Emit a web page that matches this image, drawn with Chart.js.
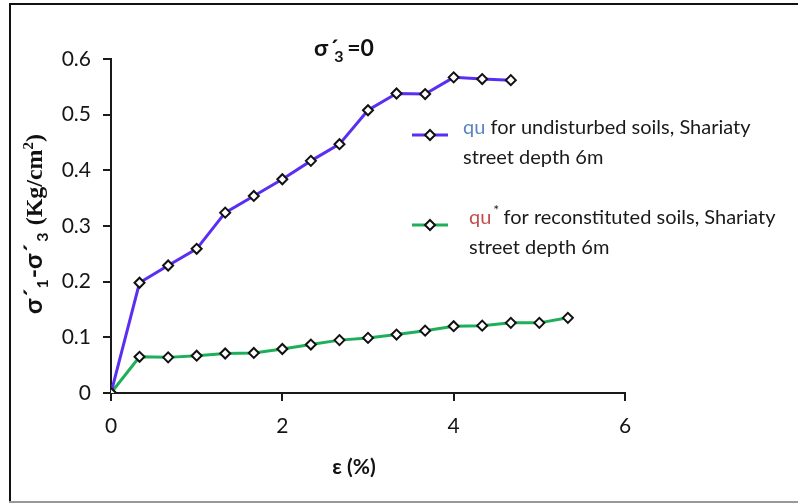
<!DOCTYPE html>
<html>
<head>
<meta charset="utf-8">
<script src="https://cdn.jsdelivr.net/npm/chart.js@4/dist/chart.umd.min.js"></script>
<style>
  html, body { margin: 0; padding: 0; background: #fff; }
  #wrap { position: relative; width: 798px; height: 504px; }
</style>
</head>
<body>
<div id="wrap"><canvas id="chart" width="798" height="504"></canvas></div>
<script>
// strain (%) and deviator stress values
const strainUndisturbed = [0, 0.333, 0.667, 1.0, 1.333, 1.667, 2.0, 2.333, 2.667, 3.0, 3.333, 3.667, 4.0, 4.333, 4.667];
const stressUndisturbed = [0, 0.198, 0.229, 0.259, 0.324, 0.354, 0.384, 0.417, 0.447, 0.508, 0.538, 0.537, 0.567, 0.564, 0.562];

const strainReconstituted = [0, 0.333, 0.667, 1.0, 1.333, 1.667, 2.0, 2.333, 2.667, 3.0, 3.333, 3.667, 4.0, 4.333, 4.667, 5.0, 5.333];
const stressReconstituted = [0, 0.065, 0.064, 0.067, 0.071, 0.072, 0.079, 0.087, 0.095, 0.099, 0.105, 0.112, 0.120, 0.121, 0.126, 0.126, 0.135];

const xTicks = [0, 2, 4, 6];
const yTicks = [0, 0.1, 0.2, 0.3, 0.4, 0.5, 0.6];

const legendItems = [
    { prefix: "qu", prefixColor: "#5b84c4", sup: "", rest: " for undisturbed soils, Shariaty", line2: "street depth 6m", color: "#5b2ff2" },
    { prefix: "qu", prefixColor: "#c0504d", sup: "*", rest: " for reconstituted soils, Shariaty", line2: "street depth 6m", color: "#1fae5a" }
];

const SANS = "Lato, 'Open Sans', sans-serif";
const SERIF = "'Liberation Serif', 'DejaVu Serif', serif";

function toPoints(xs, ys) {
    return xs.map((x, i) => ({ x: x, y: ys[i] }));
}

function drawDiamond(ctx, x, y, r) {
    ctx.beginPath();
    ctx.moveTo(x, y - r);
    ctx.lineTo(x + r, y);
    ctx.lineTo(x, y + r);
    ctx.lineTo(x - r, y);
    ctx.closePath();
    ctx.fillStyle = "#fff";
    ctx.fill();
    ctx.lineWidth = 2;
    ctx.strokeStyle = "#111";
    ctx.stroke();
}

// frame, titles and the hand-placed legend
const decorations = {
    id: "decorations",
    afterDraw(chart) {
        const ctx = chart.ctx;
        ctx.save();

        // picture frame
        ctx.fillStyle = "#111";
        ctx.fillRect(9, 3, 789, 2);
        ctx.fillRect(9, 3, 2, 500);
        ctx.fillStyle = "#999";
        ctx.fillRect(9, 501, 789, 2);

        // title  σ'3 =0
        ctx.fillStyle = "#111";
        ctx.textBaseline = "alphabetic";
        ctx.font = "bold 23px " + SANS;
        let x = 314;
        ctx.fillText("σ", x, 56);
        x += ctx.measureText("σ").width + 1;
        ctx.fillText("´", x, 56);
        ctx.font = "bold 16px " + SANS;
        ctx.fillText("3", x + 5, 62);
        ctx.font = "bold 23px " + SANS;
        ctx.fillText("=0", x + 18, 56);

        // x axis title
        ctx.font = "bold 21px " + SANS;
        ctx.textAlign = "center";
        ctx.fillText("ε (%)", 354, 474);

        // y axis title, rotated
        ctx.save();
        ctx.translate(42, 314);
        ctx.rotate(-Math.PI / 2);
        ctx.textAlign = "left";
        let p = 0;
        ctx.font = "bold 25px " + SANS;
        ctx.fillText("σ´", p, 0);
        p += ctx.measureText("σ´").width;
        ctx.font = "bold 16px " + SANS;
        ctx.fillText("1", p, 6);
        p += ctx.measureText("1").width + 1;
        ctx.font = "bold 25px " + SANS;
        ctx.fillText("-σ´", p, 0);
        p += ctx.measureText("-σ´").width;
        ctx.font = "bold 16px " + SANS;
        ctx.fillText("3", p + 2, 6);
        p += ctx.measureText("3").width + 9;
        ctx.font = "bold 24px " + SERIF;
        ctx.fillText("(Kg/cm", p, 0);
        p += ctx.measureText("(Kg/cm").width;
        ctx.font = "bold 15px " + SERIF;
        ctx.fillText("2", p, -9);
        p += ctx.measureText("2").width;
        ctx.font = "bold 24px " + SERIF;
        ctx.fillText(")", p, 0);
        ctx.restore();

        // legend
        const rows = [{ y: 128 }, { y: 218 }];
        legendItems.forEach((item, i) => {
            const ly = rows[i].y;
            const sy = ly + 7;
            ctx.strokeStyle = item.color;
            ctx.lineWidth = 3;
            ctx.beginPath();
            ctx.moveTo(412, sy);
            ctx.lineTo(448, sy);
            ctx.stroke();
            drawDiamond(ctx, 430, sy, 5);

            ctx.textAlign = "left";
            ctx.textBaseline = "middle";
            ctx.font = "20px " + SANS;
            const x0 = i === 0 ? 463 : 469;
            let tx = x0;
            ctx.fillStyle = item.prefixColor;
            ctx.fillText(item.prefix, tx, ly);
            tx += ctx.measureText(item.prefix).width;
            if (item.sup) {
                ctx.fillStyle = "#222";
                ctx.font = "14px " + SANS;
                ctx.fillText(item.sup, tx + 2, ly - 8);
                tx += 7;
                ctx.font = "20px " + SANS;
            }
            ctx.fillStyle = "#1a1a1a";
            ctx.fillText(item.rest, tx, ly);
            ctx.fillText(item.line2, x0, ly + 30);
        });

        ctx.restore();
    }
};

const ctx = document.getElementById("chart").getContext("2d");
new Chart(ctx, {
    type: "line",
    data: {
        datasets: [{
            label: "qu for undisturbed soils, Shariaty street depth 6m",
            data: toPoints(strainUndisturbed, stressUndisturbed),
            borderColor: legendItems[0].color,
            borderWidth: 3,
            pointStyle: "rectRot",
            pointRadius: 5,
            pointBorderWidth: 2,
            pointBackgroundColor: "#fff",
            pointBorderColor: "#111",
            tension: 0
        }, {
            label: "qu* for reconstituted soils, Shariaty street depth 6m",
            data: toPoints(strainReconstituted, stressReconstituted),
            borderColor: legendItems[1].color,
            borderWidth: 3,
            pointStyle: "rectRot",
            pointRadius: 5,
            pointBorderWidth: 2,
            pointBackgroundColor: "#fff",
            pointBorderColor: "#111",
            tension: 0
        }]
    },
    options: {
        responsive: false,
        animation: false,
        layout: { padding: { top: 59, right: 173, bottom: 0, left: 0 } },
        plugins: {
            legend: { display: false },
            tooltip: { enabled: false }
        },
        scales: {
            x: {
                type: "linear",
                min: xTicks[0],
                max: xTicks[xTicks.length - 1],
                afterBuildTicks: axis => { axis.ticks = xTicks.map(v => ({ value: v })); },
                afterFit: axis => { axis.height = 111; },
                border: { display: true, color: "#1a1a1a", width: 2 },
                grid: { drawOnChartArea: false, drawTicks: true, tickLength: 8, color: "#1a1a1a", lineWidth: 2 },
                ticks: { color: "#151515", font: { family: SANS, size: 21 }, padding: 13, maxRotation: 0 }
            },
            y: {
                type: "linear",
                min: yTicks[0],
                max: yTicks[yTicks.length - 1],
                afterBuildTicks: axis => { axis.ticks = yTicks.map(v => ({ value: v })); },
                afterFit: axis => { axis.width = 111; },
                border: { display: true, color: "#1a1a1a", width: 2 },
                grid: { drawOnChartArea: false, drawTicks: true, tickLength: 8, color: "#1a1a1a", lineWidth: 2 },
                ticks: { color: "#151515", font: { family: SANS, size: 21 }, padding: 12 }
            }
        }
    },
    plugins: [decorations]
});
</script>
</body>
</html>
